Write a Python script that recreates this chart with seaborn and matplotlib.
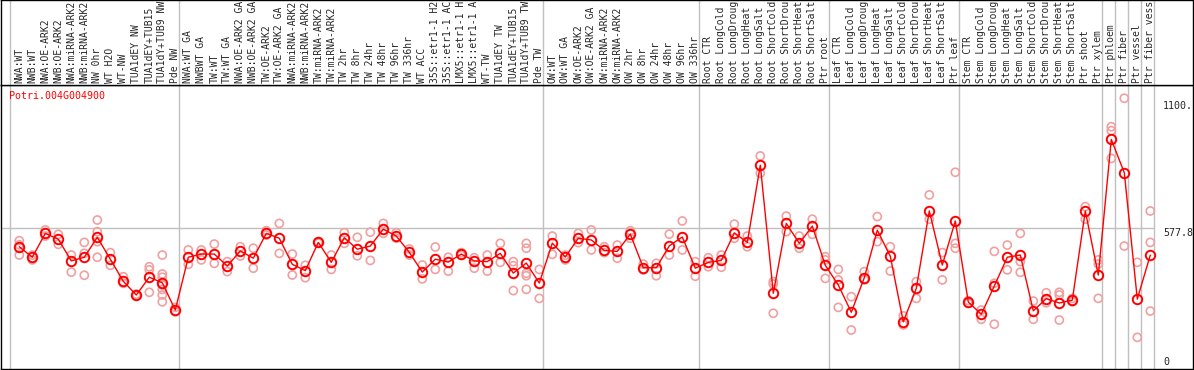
import matplotlib
matplotlib.use('Agg')
import matplotlib.pyplot as plt
import matplotlib.transforms as mtrans
import pandas as pd
import seaborn as sns

# sample labels, one column each (as printed in the header, max 14 chars)
labels = [
    'NWA:WT', 'NWB:WT', 'NWA:OE-ARK2', 'NWB:OE-ARK2', 'NWA:miRNA-ARK2', 'NWB:miRNA-ARK2',
    'NW 0hr', 'WT H2O', 'WT-NW', 'TUA1dEY NW', 'TUA1dEY+TUB15', 'TUA1dY+TUB9 NW', 'Pde NW',
    'NWA:WT GA', 'NWBWT GA', 'TW:WT', 'TW:WT GA', 'NWA:OE-ARK2 GA', 'NWB:OE-ARK2 GA',
    'TW:OE-ARK2', 'TW:OE-ARK2 GA', 'NWA:miRNA-ARK2', 'NWB:miRNA-ARK2', 'TW:miRNA-ARK2',
    'TW:miRNA-ARK2', 'TW 2hr', 'TW 8hr', 'TW 24hr', 'TW 48hr', 'TW 96hr', 'TW 336hr', 'WT ACC',
    '35S::etr1-1 H2', '35S::etr1-1 AC', 'LMX5::etr1-1 H', 'LMX5::etr1-1 A', 'WT-TW',
    'TUA1dEY TW', 'TUA1dEY+TUB15', 'TUA1dY+TUB9 TW', 'Pde TW',
    'OW:WT', 'OW:WT GA', 'OW:OE-ARK2', 'OW:OE-ARK2 GA', 'OW:miRNA-ARK2', 'OW:miRNA-ARK2',
    'OW 2hr', 'OW 8hr', 'OW 24hr', 'OW 48hr', 'OW 96hr', 'OW 336hr',
    'Root CTR', 'Root LongCold', 'Root LongDroug', 'Root LongHeat', 'Root LongSalt',
    'Root ShortCold', 'Root ShortDrou', 'Root ShortHeat', 'Root ShortSalt', 'Ptr root',
    'Leaf CTR', 'Leaf LongCold', 'Leaf LongDroug', 'Leaf LongHeat', 'Leaf LongSalt',
    'Leaf ShortCold', 'Leaf ShortDrou', 'Leaf ShortHeat', 'Leaf ShortSalt', 'Ptr leaf',
    'Stem CTR', 'Stem LongCold', 'Stem LongDroug', 'Stem LongHeat', 'Stem LongSalt',
    'Stem ShortCold', 'Stem ShortDrou', 'Stem ShortHeat', 'Stem ShortSalt', 'Ptr shoot',
    'Ptr xylem', 'Ptr phloem', 'Ptr fiber', 'Ptr vessel', 'Ptr fiber vess',
]

# mean expression per sample
means = [
    502, 459, 557, 533, 444, 459, 541, 451, 360, 304, 377, 354, 242,
    459, 472, 472, 423, 485, 455, 557, 537, 430, 404, 520, 438, 539, 492, 505,
    574, 546, 479, 398, 451, 439, 472, 444, 441, 475, 394, 435, 353,
    517, 460, 537, 530, 487, 483, 554, 416, 416, 506, 542, 414,
    438, 446, 559, 520, 837, 311, 598, 516, 587, 426,
    345, 233, 375, 570, 463, 194, 331, 649, 427, 608,
    275, 225, 341, 459, 468, 239, 289, 271, 283, 649, 386,
    943, 806, 287, 468,
]

# individual replicates per sample
reps = [
    [527, 510, 468], [468, 448], [571, 546], [553, 512], [468, 398], [520, 475, 385],
    [612, 564, 523, 459], [478, 426], [379, 352], [307, 301], [420, 407, 315],
    [468, 390, 377, 345, 327, 304, 276], [253, 235],
    [489, 430], [489, 448], [513, 434], [441, 400], [502, 464], [496, 414], [568, 550],
    [598, 475], [472, 386], [426, 375], [523, 517], [468, 409], [560, 516], [541, 465],
    [562, 446], [598, 557], [560, 537], [493, 468], [427, 370], [501, 409], [459, 402],
    [478, 467], [457, 414], [468, 402], [516, 438], [441, 424, 322],
    [516, 496, 393, 383, 327], [409, 290],
    [546, 471], [468, 448], [557, 519], [571, 489], [502, 478], [509, 455], [568, 537],
    [431, 407], [434, 383], [554, 468], [608, 489], [441, 381],
    [457, 420], [468, 418], [595, 537], [546, 502], [875, 804], [359, 349, 229],
    [628, 564], [546, 496], [615, 553], [461, 448, 372],
    [409, 366, 253], [297, 160], [400, 366], [626, 523], [502, 402], [218, 181],
    [359, 290], [715, 615], [478, 366], [808, 516, 496],
    [281, 270], [242, 204], [483, 352, 184], [509, 407], [557, 441, 397], [279, 204],
    [313, 272], [315, 304, 201], [290, 276], [667, 615], [448, 431, 290],
    [995, 979, 865], [1112, 505], [438, 130], [649, 520, 238],
]

group_starts = [0, 13, 41, 53, 63, 73, 84, 85, 86, 87, 88]
ref_value = 577.8
gene = 'Potri.004G004900'

sns.set_style('white')
plt.rcParams['font.family'] = ['DejaVu Sans Mono']
FS = 7.0

W, H = 1194, 370
fig = plt.figure(figsize=(W / 100, H / 100), dpi=100)


def px_rect(x0, y0, x1, y1):
    return [x0 / W, 1 - y1 / H, (x1 - x0) / W, (y1 - y0) / H]


ax = fig.add_axes(px_rect(1, 85, 1193, 369))
head = fig.add_axes(px_rect(1, 0, 1193, 85))

x0 = (1 - 19.3) / 13
x1 = (1193 - 19.3) / 13
ymax = (369 - 85) * 4.107
for a in (ax, head):
    a.set_xlim(x0, x1)
    a.set_xticks([])
    a.set_yticks([])
    for s in a.spines.values():
        s.set_color('black')
        s.set_linewidth(1)
ax.set_ylim(0, ymax)
head.set_ylim(0, 1)

# group separators
for g in group_starts:
    ax.axvline(g - 0.7, color='#c0c0c0', lw=1, zorder=1)
    head.axvline(g - 0.7, color='#c0c0c0', lw=1, zorder=1)
ax.hlines(ref_value, x0, group_starts[-1] - 0.7, color='#c0c0c0', lw=1, zorder=1)

rep_df = pd.DataFrame([(i, v) for i, r in enumerate(reps) for v in r], columns=['sample', 'value'])
mean_df = pd.DataFrame({'sample': range(len(means)), 'value': means})

sns.scatterplot(data=rep_df, x='sample', y='value', ax=ax, marker='o', s=34,
                facecolor='none', edgecolor='#f0a0a0', linewidth=1.2, zorder=2)
sns.lineplot(data=mean_df, x='sample', y='value', ax=ax, color='red', lw=1,
             marker='o', markersize=6.8, markerfacecolor='none', markeredgecolor='red',
             markeredgewidth=1.4, zorder=3)
ax.set_xlabel('')
ax.set_ylabel('')
ax.set_xlim(x0, x1)
ax.set_ylim(0, ymax)

# sample labels in the header
ht = mtrans.blended_transform_factory(head.transData, head.transAxes)
for i, lab in enumerate(labels):
    head.text(i, 2 / 84, lab, rotation=90, ha='center', va='bottom',
              fontsize=FS, transform=ht, clip_on=True)

ax.text(8 / 1192, 1 - 6 / 284, gene, color='red', fontsize=7.2, ha='left', va='top',
        transform=ax.transAxes)

rt = mtrans.blended_transform_factory(ax.transAxes, ax.transData)
xr = (1163 - 1) / 1192
ax.text(xr, 1100, '1100.', fontsize=7.2, ha='left', va='top', transform=rt)
ax.text(xr, ref_value, f'{ref_value}', fontsize=7.2, ha='left', va='top', transform=rt)
ax.text(xr, 10, '0', fontsize=7.2, ha='left', va='bottom', transform=rt)

fig.savefig('out.png', dpi=100)
